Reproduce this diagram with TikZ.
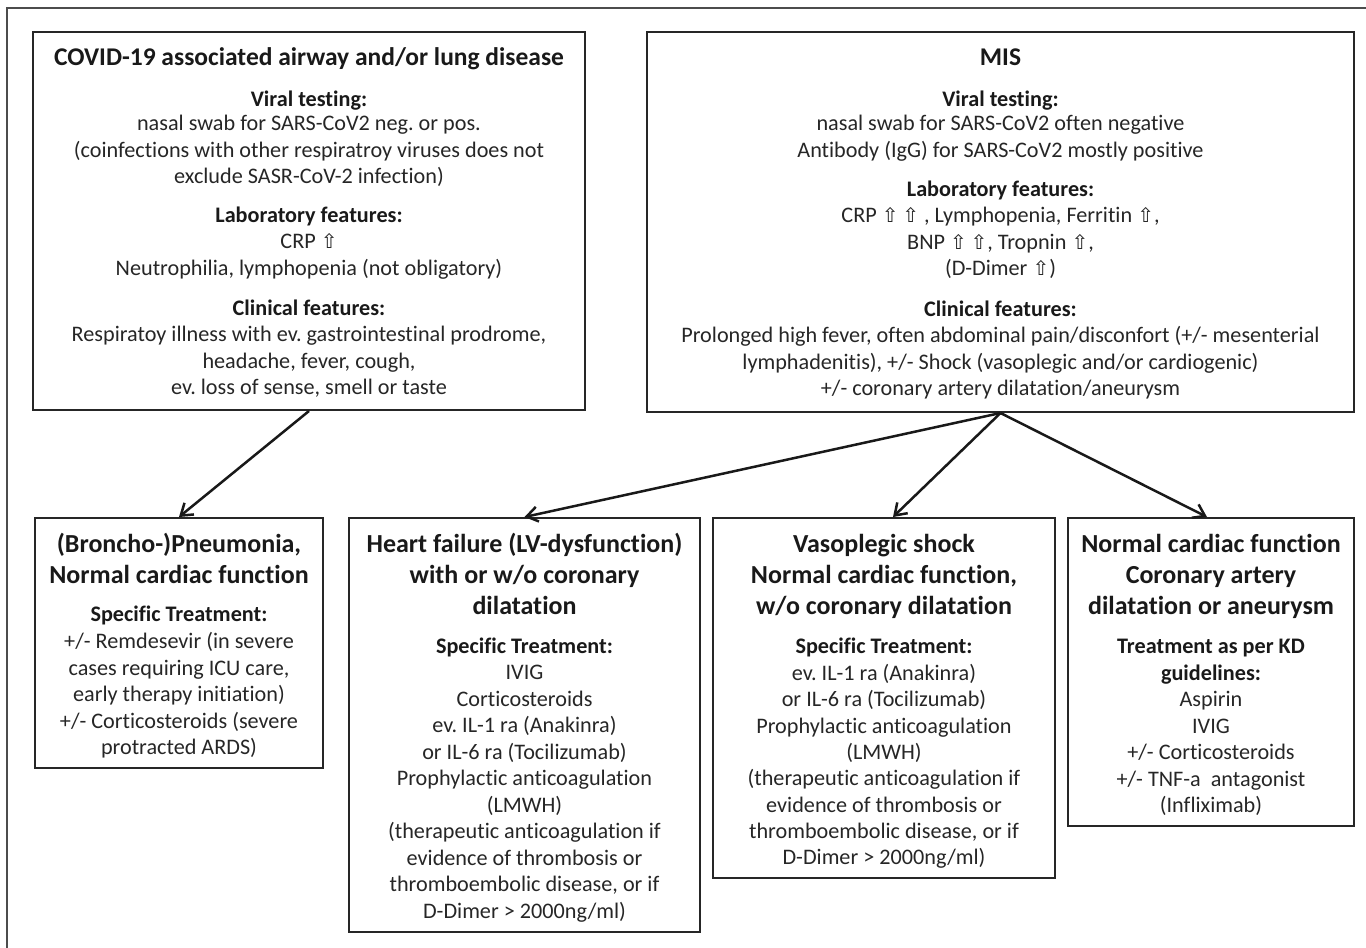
\documentclass[tikz,border=0pt]{standalone}
\usepackage{fontspec}
\setmainfont{Carlito}[Ligatures=NoCommon]
\newfontfamily\symfont{DejaVu Sans}
\usetikzlibrary{arrows.meta}
\newcommand\up{{\symfont\fontsize{20}{20}\selectfont ⇧}}
\frenchspacing
\begin{document}
\begin{tikzpicture}[x=1pt,y=-1pt,
  box/.style={draw=black!85, line width=2pt, rectangle, inner sep=0pt},
  body/.style={font=\fontsize{22.2}{26}\selectfont, anchor=base, inner sep=0pt, text=black!85},
  head/.style={font=\bfseries\fontsize{22.2}{26}\selectfont, anchor=base, inner sep=0pt, text=black!90},
  ttl/.style={font=\bfseries\fontsize{25.5}{29}\selectfont, anchor=base, inner sep=0pt, text=black!90},
  btl/.style={font=\bfseries\fontsize{26}{30}\selectfont, anchor=base, inner sep=0pt, text=black!90},
  arr/.style={line width=2.5pt, draw=black!90, -{Straight Barb[length=11pt,width=15pt,line width=2.5pt]}}]
\useasboundingbox (0,0) rectangle (1366,948);
\draw[line width=2pt, black!70] (7,948) -- (7,8) -- (1366,8);

% boxes
\node[box, minimum width=552, minimum height=378] (b1) at (309,221) {};
\node[box, minimum width=707, minimum height=380] (b2) at (1000.5,222) {};
\node[box, minimum width=288, minimum height=250] (c1) at (179,643) {};
\node[box, minimum width=351, minimum height=414] (c2) at (524.5,725) {};
\node[box, minimum width=342, minimum height=360] (c3) at (884,698) {};
\node[box, minimum width=286, minimum height=308] (c4) at (1211,672) {};

% box 1
\node[ttl] (b1t) at (309,65) {COVID-19 associated airway and/or lung disease};
\node[head] (b1h1) at (309,106.5) {Viral testing:};
\foreach \t [count=\i from 0] in {{nasal swab for SARS-CoV2 neg. or pos.},{(coinfections with other respiratroy viruses does not},{exclude SASR-CoV-2 infection)}}
  \node[body, name=b1v\i] at (309,130.5+\i*26.5) {\t};
\node[head] (b1h2) at (309,222.5) {Laboratory features:};
\foreach \t [count=\i from 0] in {{CRP \up},{Neutrophilia, lymphopenia (not obligatory)}}
  \node[body, name=b1l\i] at (309,248.5+\i*26.5) {\t};
\node[head] (b1h3) at (309,315.5) {Clinical features:};
\foreach \t [count=\i from 0] in {{Respiratoy illness with ev. gastrointestinal prodrome,},{headache, fever, cough,},{ev. loss of sense, smell or taste}}
  \node[body, name=b1c\i] at (309,341.5+\i*26.5) {\t};

% box 2 (MIS)
\node[ttl] (b2t) at (1000.5,65) {MIS};
\node[head] (b2h1) at (1000.5,106.5) {Viral testing:};
\foreach \t [count=\i from 0] in {{nasal swab for SARS-CoV2 often negative},{Antibody (IgG) for SARS-CoV2 mostly positive}}
  \node[body, name=b2v\i] at (1000.5,130.5+\i*26.5) {\t};
\node[head] (b2h2) at (1000.5,196.5) {Laboratory features:};
\foreach \t [count=\i from 0] in {{CRP \up\,\up\ , Lymphopenia, Ferritin \up,},{BNP \up\,\up, Tropnin \up,},{(D-Dimer \up)}}
  \node[body, name=b2l\i] at (1000.5,222.5+\i*26.5) {\t};
\node[head] (b2h3) at (1000.5,316.5) {Clinical features:};
\foreach \t [count=\i from 0] in {{Prolonged high fever, often abdominal pain/disconfort (+/- mesenterial},{lymphadenitis), +/- Shock (vasoplegic and/or cardiogenic)},{+/- coronary artery dilatation/aneurysm}}
  \node[body, name=b2c\i] at (1000.5,342.5+\i*26.5) {\t};

% c1
\foreach \t [count=\i from 0] in {{(Broncho-)Pneumonia,},{Normal cardiac function}}
  \node[btl, name=c1t\i] at (179,552+\i*31) {\t};
\node[head] (c1h) at (179,621.5) {Specific Treatment:};
\foreach \t [count=\i from 0] in {{+/- Remdesevir (in severe},{cases requiring ICU care,},{early therapy initiation)},{+/- Corticosteroids (severe},{protracted ARDS)}}
  \node[body, name=c1b\i] at (179,648.5+\i*26.5) {\t};

% c2
\foreach \t [count=\i from 0] in {{Heart failure (LV-dysfunction)},{with or w/o coronary},{dilatation}}
  \node[btl, name=c2t\i] at (524.5,552+\i*31) {\t};
\node[head] (c2h) at (524.5,653.5) {Specific Treatment:};
\foreach \t [count=\i from 0] in {{IVIG},{Corticosteroids},{ev. IL-1 ra (Anakinra)},{or IL-6 ra (Tocilizumab)},{Prophylactic anticoagulation},{(LMWH)},{(therapeutic anticoagulation if},{evidence of thrombosis or},{thromboembolic disease, or if},{D-Dimer > 2000ng/ml)}}
  \node[body, name=c2b\i] at (524.5,679.5+\i*26.5) {\t};

% c3
\foreach \t [count=\i from 0] in {{Vasoplegic shock},{Normal cardiac function,},{w/o coronary dilatation}}
  \node[btl, name=c3t\i] at (884,552+\i*31) {\t};
\node[head] (c3h) at (884,653.5) {Specific Treatment:};
\foreach \t [count=\i from 0] in {{ev. IL-1 ra (Anakinra)},{or IL-6 ra (Tocilizumab)},{Prophylactic anticoagulation},{(LMWH)},{(therapeutic anticoagulation if},{evidence of thrombosis or},{thromboembolic disease, or if},{D-Dimer > 2000ng/ml)}}
  \node[body, name=c3b\i] at (884,680.5+\i*26.3) {\t};

% c4
\foreach \t [count=\i from 0] in {{Normal cardiac function},{Coronary artery},{dilatation or aneurysm}}
  \node[btl, name=c4t\i] at (1211,552+\i*31) {\t};
\node[head] (c4h1) at (1211,653.5) {Treatment as per KD};
\node[head] (c4h2) at (1211,680.5) {guidelines:};
\foreach \t [count=\i from 0] in {{Aspirin},{IVIG},{+/- Corticosteroids},{+/- TNF-a\ \ antagonist},{(Infliximab)}}
  \node[body, name=c4b\i] at (1211,706.5+\i*26.5) {\t};

% arrows
\draw[arr] (b1.south) -- (c1.north);
\draw[arr] (b2.south) -- (c2.north);
\draw[arr] (b2.south) -- ([xshift=9pt]c3.north);
\draw[arr] (b2.south) -- ([xshift=-4pt]c4.north);
\end{tikzpicture}
\end{document}
